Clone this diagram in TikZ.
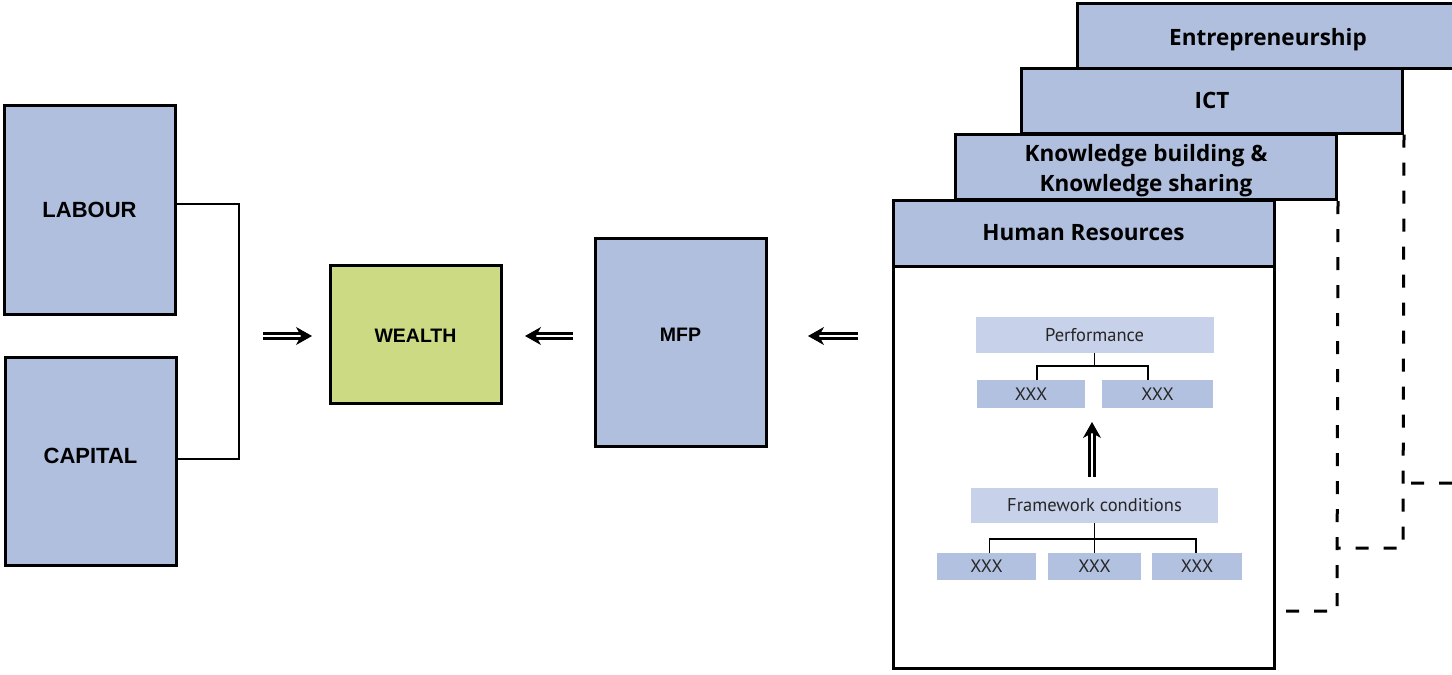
\documentclass[tikz,border=0pt]{standalone}
\usepackage{fontspec}
\setmainfont{Liberation Sans}
\newfontfamily\cardfont{Open Sans}
\newfontfamily\innerfont{PT Sans}
\usetikzlibrary{arrows.meta}
\definecolor{boxblue}{RGB}{176,191,222}
\definecolor{wgreen}{RGB}{204,218,131}
\definecolor{lightb}{RGB}{200,209,234}
\definecolor{midb}{RGB}{179,193,225}
\begin{document}
\begin{tikzpicture}[x=1pt,y=-1pt,
  bigbox/.style={draw=black, line width=3pt, fill=boxblue, inner sep=0pt, font=\bfseries\fontsize{22}{24}\selectfont},
  midbox/.style={bigbox, font=\bfseries\fontsize{19.5}{22}\selectfont},
  boxtext/.style={inner sep=0pt, font=\bfseries\fontsize{22}{24}\selectfont},
  midtext/.style={inner sep=0pt, font=\bfseries\fontsize{19.5}{22}\selectfont},
  cardhead/.style={draw=black, line width=3pt, fill=boxblue, inner sep=0pt, align=center,
    minimum width=381pt, minimum height=65pt, font=\cardfont\bfseries\fontsize{22.5}{30}\selectfont},
  headtext/.style={inner sep=0pt, align=center, font=\cardfont\bfseries\fontsize{22.5}{30}\selectfont},
  cardbody/.style={draw=black, line width=3pt, fill=white, inner sep=0pt},
  pale/.style={fill=lightb, inner sep=0pt, text=black!85, font=\innerfont\fontsize{18.5}{20}\selectfont},
  xbox/.style={fill=midb, inner sep=0pt, text=black!85, font=\innerfont\fontsize{18}{20}\selectfont},
  link/.style={draw=black, line width=2pt},
  thinlink/.style={draw=black, line width=1.8pt},
  dashlink/.style={draw=black, line width=3pt, dash pattern=on 13pt off 15pt},
  dbl/.style={draw=white, line width=1pt, -{Stealth[black, length=16pt, width=18pt, inset=5pt]},
    preaction={draw=black, double=white, line width=2.4pt, double distance=2.8pt, shorten >=8pt, arrows=-}},
]
\clip (0,0) rectangle (1452,675);
\fill[white] (0,0) rectangle (1452,675);

% left boxes
\node[bigbox, minimum width=171pt, minimum height=209pt] (labour) at (89.5,209.5) {LABOUR};
\node[bigbox, minimum width=171pt, minimum height=208pt,
  label={[boxtext, yshift=5pt]center:CAPITAL}] (capital) at (90.5,461) {};
\draw[link] ([yshift=5.5pt]labour.east) -| (239,459) -- ([yshift=2pt]capital.east);

\node[midbox, fill=wgreen, minimum width=171pt, minimum height=138pt,
  label={[midtext, yshift=-2pt]center:WEALTH}] (wealth) at (415.5,334) {};
\node[midbox, minimum width=171pt, minimum height=208pt,
  label={[midtext, yshift=7pt]center:MFP}] (mfp) at (680.5,342) {};

\coordinate (a1s) at (263,336);
\coordinate (a1e) at (312,336);
\coordinate (a2s) at (573,336);
\coordinate (a2e) at (525,336);
\coordinate (a3s) at (858,336);
\coordinate (a3e) at (808,336);
\draw[dbl] (a1s) -- (a1e);
\draw[dbl] (a2s) -- (a2e);
\draw[dbl] (a3s) -- (a3e);

% card stack
\node[cardhead, label={[headtext, yshift=-4pt]center:Entrepreneurship}] (ent) at (1268,35.5) {};
\node[cardhead] (ict) at (1212,100.5) {ICT};
\node[cardhead, label={[headtext, yshift=-4pt]center:Knowledge building \&\\Knowledge sharing}] (kb) at (1146,167) {};
\node[cardhead, minimum height=66pt] (hr) at (1083.5,233) {Human Resources};
\node[cardbody, minimum width=381pt, minimum height=402pt] (hrbody) at (1083.5,467) {};

\coordinate (entc) at (1458.5,483);
\coordinate (ictc) at (1403,548);
\coordinate (kbc) at (1337,611);
\draw[dashlink] (ent.south east) -- (entc) -- (ict.east |- entc);
\draw[dashlink] (ict.south east) -- (ictc) -- (kb.east |- ictc);
\draw[dashlink] (kb.south east) -- (kbc) -- (hrbody.east |- kbc);

% inner content
\node[pale, minimum width=238pt, minimum height=36pt] (perf) at (1094.5,335) {Performance};
\node[xbox, minimum width=108pt, minimum height=28pt] (x1) at (1031,394) {XXX};
\node[xbox, minimum width=111pt, minimum height=28pt] (x2) at (1157.5,394) {XXX};
\coordinate (pj) at (1094.5,366);
\draw[thinlink] (perf.south) -- (pj);
\draw[thinlink] ([xshift=6pt]x1.north) |- (pj) -| ([xshift=-9.5pt]x2.north);

\node[pale, minimum width=247pt, minimum height=35pt] (fw) at (1094.5,505.5) {Framework conditions};
\node[xbox, minimum width=99pt, minimum height=27pt] (xa) at (986.5,566.5) {XXX};
\node[xbox, minimum width=93pt, minimum height=27pt] (xb) at (1094.5,566.5) {XXX};
\node[xbox, minimum width=90pt, minimum height=27pt] (xc) at (1197,566.5) {XXX};
\coordinate (fj) at (1094.5,539);
\draw[thinlink] (fw.south) -- (xb.north);
\draw[thinlink] ([xshift=3pt]xa.north) |- (fj) -| ([xshift=-1pt]xc.north);

\coordinate (ia) at (1092,477);
\coordinate (ib) at (1092,422);
\draw[dbl] (ia) -- (ib);
\end{tikzpicture}
\end{document}
